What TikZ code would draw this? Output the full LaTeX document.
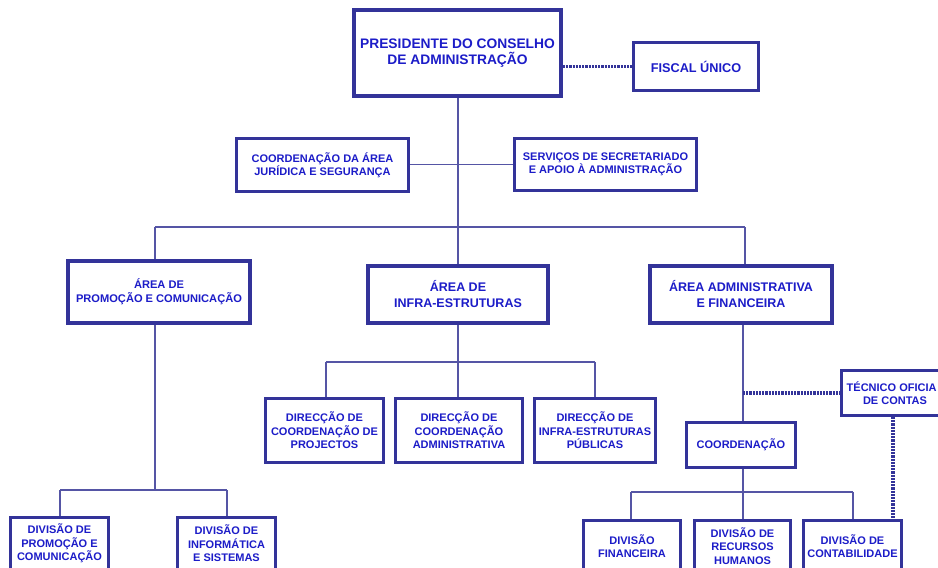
\documentclass[tikz,border=0pt]{standalone}
\usepackage{fontspec}
\setmainfont{Liberation Sans}
\definecolor{bordc}{RGB}{51,51,153}
\definecolor{txtc}{RGB}{28,28,200}
\definecolor{linec}{RGB}{85,85,165}
\tikzset{
  box/.style={draw=bordc, line width=3pt, fill=white, inner sep=0pt, align=center, text=txtc, font=\bfseries\fontsize{11}{13.4}\selectfont},
  bigbox/.style={box, line width=4pt, font=\bfseries\fontsize{12.5}{16}\selectfont},
  conn/.style={draw=linec, line width=1.1pt},
  dotc/.style={draw=bordc, line width=3.2pt, dash pattern=on 2.2pt off 1pt}
}
\begin{document}
\begin{tikzpicture}[x=1pt,y=-1pt]
\useasboundingbox (0,0) rectangle (938,568);
\clip (0,0) rectangle (938,568);
% junction coordinates
\coordinate (jtop) at (458,227);
\coordinate (jl) at (155,227);
\coordinate (jr) at (745,227);
\coordinate (jp) at (155,490);
\coordinate (jpl) at (60,490);
\coordinate (jpr) at (227,490);
\coordinate (ji) at (458,362);
\coordinate (jil) at (326,362);
\coordinate (jir) at (595,362);
\coordinate (ja) at (743,393);
\coordinate (jc) at (743,492);
\coordinate (jcl) at (631,492);
\coordinate (jcr) at (853,492);
\coordinate (jt) at (893,393);
% connectors first (boxes drawn over them)
\draw[conn] (458,96) -- (458,266);
\draw[conn] (jl) -- (jr);
\draw[conn] (jl) -- (155,261);
\draw[conn] (jr) -- (745,266);
\draw[conn] (410,164.5) -- (513,164.5);
\draw[conn] (155,323) -- (jp);
\draw[conn] (jpl) -- (jpr);
\draw[conn] (jpl) -- (60,517);
\draw[conn] (jpr) -- (227,517);
\draw[conn] (458,323) -- (ji);
\draw[conn] (jil) -- (jir);
\draw[conn] (jil) -- (326,398);
\draw[conn] (ji) -- (458,398);
\draw[conn] (jir) -- (595,398);
\draw[conn] (743,323) -- (743,422);
\draw[conn] (743,468) -- (743,520);
\draw[conn] (jcl) -- (jcr);
\draw[conn] (jcl) -- (631,520);
\draw[conn] (jcr) -- (853,520);
% boxes
\node[bigbox, minimum width=207pt, minimum height=86pt, font=\bfseries\fontsize{13.8}{16.5}\selectfont] (pres) at (457.5,53) {PRESIDENTE DO CONSELHO\\DE ADMINISTRAÇÃO};
\node[box, minimum width=125pt, minimum height=48pt, font=\bfseries\fontsize{12.7}{15}\selectfont] (fiscal) at (696,66.5) {FISCAL ÚNICO};
\node[box, minimum width=172pt, minimum height=53pt] (juri) at (322.5,165) {COORDENAÇÃO DA ÁREA\\JURÍDICA E SEGURANÇA};
\node[box, minimum width=182pt, minimum height=52pt] (serv) at (605.5,164.5) {SERVIÇOS DE SECRETARIADO\\E APOIO À ADMINISTRAÇÃO};
\node[bigbox, minimum width=182pt, minimum height=62pt, font=\bfseries\fontsize{11.1}{14}\selectfont] (promo) at (159,292) {ÁREA DE\\PROMOÇÃO E COMUNICAÇÃO};
\node[bigbox, minimum width=180pt, minimum height=57pt] (infra) at (458,294.5) {ÁREA DE\\INFRA-ESTRUTURAS};
\node[bigbox, minimum width=182pt, minimum height=57pt] (admin) at (741,294.5) {ÁREA ADMINISTRATIVA\\E FINANCEIRA};
\node[box, minimum width=118pt, minimum height=64pt] (dproj) at (324.5,430.5) {DIRECÇÃO DE\\COORDENAÇÃO DE\\PROJECTOS};
\node[box, minimum width=127pt, minimum height=64pt] (dcoord) at (459,430.5) {DIRECÇÃO DE\\COORDENAÇÃO\\ADMINISTRATIVA};
\node[box, minimum width=121pt, minimum height=64pt] (dinfra) at (595,430.5) {DIRECÇÃO DE\\INFRA-ESTRUTURAS\\PÚBLICAS};
\node[box, minimum width=109pt, minimum height=45pt] (coord) at (741,445) {COORDENAÇÃO};
\node[box, minimum width=107pt, minimum height=45pt] (tec) at (895,393) {TÉCNICO OFICIA\hphantom{L}\\DE CONTAS};
\node[box, minimum width=98pt, minimum height=52pt] (divp) at (59.5,543.5) {DIVISÃO DE\\PROMOÇÃO E\\COMUNICAÇÃO};
\node[box, minimum width=98pt, minimum height=52pt] (divi) at (226.5,543.5) {DIVISÃO DE\\INFORMÁTICA\\E SISTEMAS};
\node[box, minimum width=97pt, minimum height=51pt] (divf) at (632,546) {DIVISÃO\\FINANCEIRA};
\node[box, minimum width=96pt, minimum height=51pt] (divr) at (742.5,546) {DIVISÃO DE\\RECURSOS\\HUMANOS};
\node[box, minimum width=98pt, minimum height=51pt] (divc) at (852.5,546) {DIVISÃO DE\\CONTABILIDADE};
% dotted connectors
\draw[dotc] (pres.east |- fiscal.west) -- (fiscal.west);
\draw[dotc] (ja) -- (tec.west);
\draw[dotc] (jt |- tec.south) -- (jt |- divc.north);
\end{tikzpicture}
\end{document}
